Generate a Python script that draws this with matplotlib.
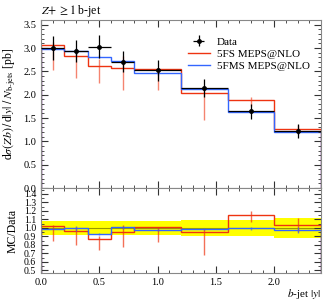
import matplotlib
matplotlib.use('Agg')
import matplotlib.pyplot as plt
import numpy as np
from matplotlib.ticker import MultipleLocator

plt.rcParams['font.family'] = ['Liberation Serif', 'DejaVu Serif']
plt.rcParams['mathtext.fontset'] = 'stix'

# bins in b-jet |y|
edges = [0, 0.2, 0.4, 0.6, 0.8, 1.2, 1.6, 2.0, 2.4]

data = [3.00, 2.94, 3.03, 2.71, 2.52, 2.14, 1.64, 1.22]
data_err = [0.25, 0.24, 0.25, 0.22, 0.22, 0.19, 0.16, 0.15]

fs = [3.07, 2.83, 2.62, 2.58, 2.55, 2.03, 1.89, 1.26]
fs_lo = [2.53, 2.36, 2.25, 2.09, 2.09, 1.46, 1.76, 1.16]
fs_hi = [3.12, 2.97, 2.76, 2.82, 2.56, 2.12, 1.96, 1.36]

fms = [2.98, 2.93, 2.81, 2.73, 2.46, 2.12, 1.63, 1.19]
fms_err = [0.03, 0.08, 0.03, 0.04, 0.03, 0.03, 0.03, 0.04]

red = '#ee3311'
blue = '#3366ff'

e = np.array(edges)
xc = (e[:-1] + e[1:]) / 2
xw = (e[1:] - e[:-1]) / 2
d = np.array(data)
de = np.array(data_err)
f = np.array(fs)
m = np.array(fms)

fig = plt.figure(figsize=(3.32, 3.0), dpi=100)
ax = fig.add_axes([0.1235, 0.3733, 0.8435, 0.56])
rx = fig.add_axes([0.1235, 0.09, 0.8435, 0.2833], sharex=ax)

# main panel
ax.stairs(f, e, color=red, lw=1.0, label='5FS MEPS@NLO')
ax.vlines(xc, fs_lo, fs_hi, color=red, lw=1.0, alpha=0.6)
ax.stairs(m, e, color=blue, lw=1.0, label='5FMS MEPS@NLO')
ax.vlines(xc, m - fms_err, m + fms_err, color=blue, lw=1.0, alpha=0.7)
ax.errorbar(xc, d, xerr=xw, yerr=de, fmt='o', color='black', ms=2.5,
            lw=0.9, capsize=0, label='Data', zorder=5)

ax.set_xlim(0, 2.4)
ax.set_ylim(0, 3.6)
ax.yaxis.set_major_locator(MultipleLocator(0.5))
ax.yaxis.set_minor_locator(MultipleLocator(0.1))
ax.set_ylabel(r'd$\sigma(Zb)\,/\,$d$|y|\;/\;N_{\mathrm{b\text{-}jets}}$ [pb]', fontsize=8.5)
ax.set_title(r'$Z\!+\geq 1$ b-jet', loc='left', fontsize=8.5, pad=4)
ax.tick_params(labelbottom=False)

h, l = ax.get_legend_handles_labels()
order = [2, 0, 1]
ax.legend([h[i] for i in order], [l[i] for i in order], loc='upper right',
          frameon=False, fontsize=8, handlelength=2.0, handletextpad=0.6,
          labelspacing=0.2, bbox_to_anchor=(0.995, 0.96))

# ratio panel
rel = de / d
rx.stairs(1 + rel, e, baseline=1 - rel, fill=True, color='#ffff00', lw=0)
rx.stairs(np.ones(len(d)), e, color='#555500', lw=0.8, alpha=0.6)
rx.stairs(f / d, e, color=red, lw=1.0)
rx.vlines(xc, np.array(fs_lo) / d, np.array(fs_hi) / d, color=red, lw=1.0, alpha=0.7)
rx.stairs(m / d, e, color=blue, lw=1.0)
rx.vlines(xc, (m - fms_err) / d, (m + fms_err) / d, color=blue, lw=1.0, alpha=0.7)

rx.set_ylim(0.47, 1.47)
rx.yaxis.set_minor_locator(MultipleLocator(0.05))
rx.set_yticks(np.round(np.arange(0.5, 1.41, 0.1), 1))
rx.set_yticklabels(['%.1f' % v for v in np.arange(0.5, 1.41, 0.1)])
rx.xaxis.set_major_locator(MultipleLocator(0.5))
rx.xaxis.set_minor_locator(MultipleLocator(0.1))
rx.set_ylabel('MC/Data', fontsize=8.5)
rx.set_xlabel(r'$b$-jet $|y|$', fontsize=8, loc='right', labelpad=0)

for a in (ax, rx):
    a.tick_params(which='both', direction='in', top=True, right=True,
                  labelsize=7.5, colors='#333333', labelcolor='black')
    a.tick_params(which='major', length=5)
    a.tick_params(which='minor', length=2.5)
    for s in a.spines.values():
        s.set_color('#888888')
rx.tick_params(axis='y', labelsize=7)

fig.savefig('out.png', dpi=100)
